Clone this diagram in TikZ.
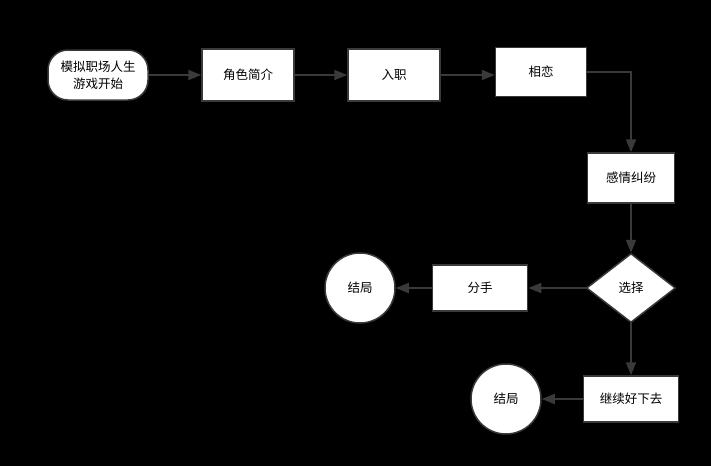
\documentclass[tikz,border=0pt]{standalone}
\usepackage{fontspec}
\newfontfamily\cjk{Noto Sans CJK SC}
\usetikzlibrary{arrows.meta,positioning,shapes.geometric}
\definecolor{edgegray}{HTML}{3A3A3A}

\begin{document}
\begin{tikzpicture}[
    x=1pt, y=-1pt,
    font=\cjk\fontsize{12.5pt}{17pt}\selectfont,
    box/.style={draw=edgegray, line width=1.5pt, fill=white, minimum width=92pt, minimum height=52pt, align=center, inner sep=2pt},
    startbox/.style={box, rounded corners=20pt, minimum width=100pt, minimum height=50pt},
    endcircle/.style={draw=edgegray, line width=1.5pt, fill=white, circle, minimum size=70pt, inner sep=0pt},
    choice/.style={draw=edgegray, line width=1.5pt, fill=white, diamond, aspect=1.29, minimum width=89pt, minimum height=69pt, inner sep=0pt},
    flow/.style={-{Triangle[length=13pt, width=10pt]}, draw=edgegray, line width=1.8pt}]
  \fill[black] (0,0) rectangle (711,466);
  \useasboundingbox (0,0) rectangle (711,466);
  \node[startbox] (start) at (98,75) {模拟职场人生\\游戏开始};
  \node[box] (intro) at (248,75) {角色简介};
  \node[box] (job) at (394,75) {入职};
  \node[box, minimum width=91pt, minimum height=49pt] (love) at (541,72) {相恋};
  \node[box, minimum width=87pt, minimum height=50pt] (conflict) at (631,178) {感情纠纷};
  \node[choice] (pick) at (631,288) {选择};
  \node[box, minimum width=95pt, minimum height=46pt] (split) at (480,288) {分手};
  \node[endcircle] (endA) at (360,288) {结局};
  \node[box, minimum width=95pt, minimum height=46pt] (keep) at (631,399) {继续好下去};
  \node[endcircle] (endB) at (506,399) {结局};
  \draw[flow] (start) -- (intro);
  \draw[flow] (intro) -- (job);
  \draw[flow] (job.east) -- (job.east -| love.west);
  \draw[flow] (love.east) -| (conflict.north);
  \draw[flow] (conflict) -- (pick);
  \draw[flow] (pick) -- (split);
  \draw[flow] (split) -- (endA);
  \draw[flow] (pick) -- (keep);
  \draw[flow] (keep) -- (endB);
\end{tikzpicture}
\end{document}
